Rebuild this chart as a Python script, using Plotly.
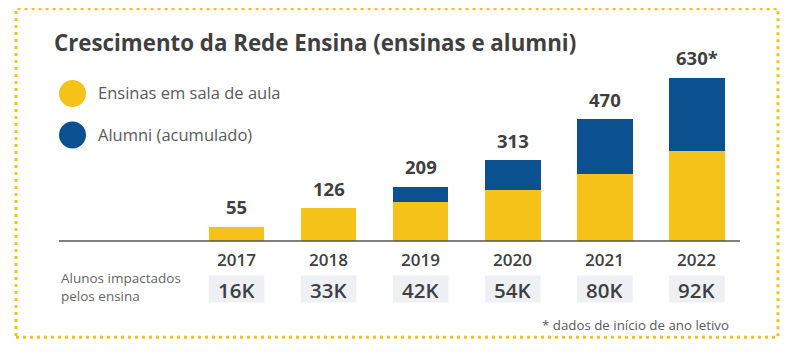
import plotly.graph_objects as go

# ---- data ----
anos = ["2017", "2018", "2019", "2020", "2021", "2022"]
ensinas_sala = [55, 126, 152, 198, 260, 349]
alumni_acum = [0, 0, 57, 115, 210, 281]
rotulos_total = ["55", "126", "209", "313", "470", "630*"]
alunos_impactados = ["16K", "33K", "42K", "54K", "80K", "92K"]

# ---- style ----
YELLOW = "#F4C218"
BLUE = "#0B5190"
DARK = "#3f3f3f"
GREY = "#5a5a5a"
FONT = "Open Sans"

OFF = 8  # page body margin offset
W, H = 790 - OFF, 356 - OFF
ML, MR, MT = 59 - OFF, 50, 60 - OFF
BASE = 241.5 - OFF
MB = H - BASE
PW = W - ML - MR
PH = BASE - MT

def px_x(px):
    return (px - OFF - ML) / PW

def px_y(py):
    return (BASE - (py - OFF)) / PH

xs = list(range(len(anos)))
bw = 0.603
totals = [a + b for a, b in zip(ensinas_sala, alumni_acum)]

fig = go.Figure()
fig.add_trace(go.Bar(x=xs, y=ensinas_sala, width=bw, marker=dict(color=YELLOW, line=dict(width=0)),
                     name="Ensinas em sala de aula", hoverinfo="skip"))
fig.add_trace(go.Bar(x=xs, y=alumni_acum, width=bw, marker=dict(color=BLUE, line=dict(width=0)),
                     name="Alumni (acumulado)", hoverinfo="skip"))

annotations = []
shapes = []

# value labels
for x, t, lab in zip(xs, totals, rotulos_total):
    annotations.append(dict(x=x, y=t, xref="x", yref="y", text=lab, showarrow=False,
                            yanchor="middle", yshift=20,
                            font=dict(family=FONT, size=18.5, color=DARK, weight="bold")))

# year labels and boxes
for x, ano, k in zip(xs, anos, alunos_impactados):
    annotations.append(dict(x=x, y=0, xref="x", yref="paper", text=ano, showarrow=False,
                            yanchor="middle", yshift=-18,
                            font=dict(family=FONT, size=17, color=DARK, weight=600)))
    shapes.append(dict(type="rect", xref="x", yref="paper", x0=x - bw / 2, x1=x + bw / 2,
                       ysizemode="pixel", yanchor=0, y0=-61.5, y1=-34.5,
                       fillcolor="#EEF0F3", line=dict(width=0), layer="below"))
    annotations.append(dict(x=x, y=0, xref="x", yref="paper", text=k, showarrow=False,
                            yanchor="middle", yshift=-49,
                            font=dict(family=FONT, size=20.5, color=DARK, weight=600)))

annotations.append(dict(x=0, y=0, xref="paper", yref="paper", text="Alunos impactados<br>pelos ensina",
                        showarrow=False, xanchor="left", yanchor="middle", yshift=-46, align="left",
                        font=dict(family=FONT, size=13.5, color="#666666")))
annotations.append(dict(x=1, y=0, xref="paper", yref="paper", text="* dados de início de ano letivo",
                        showarrow=False, xanchor="right", yanchor="middle", xshift=-9, yshift=-83.5,
                        font=dict(family=FONT, size=13.3, color=GREY)))

# title
annotations.append(dict(x=0, y=1, xref="paper", yref="paper",
                        text="Crescimento da Rede Ensina (ensinas e alumni)",
                        showarrow=False, xanchor="left", yanchor="middle", xshift=-7, yshift=18,
                        font=dict(family=FONT, size=22.3, color=DARK, weight="bold")))

# legend
leg = [("Ensinas em sala de aula", YELLOW, 93.5, 92.5), ("Alumni (acumulado)", BLUE, 135, 134)]
for name, col, cy, ty in leg:
    shapes.append(dict(type="circle", xref="paper", yref="paper",
                       xsizemode="pixel", xanchor=0, x0=0, x1=27,
                       ysizemode="pixel", yanchor=1, y0=-(cy - 60) - 13.5, y1=-(cy - 60) + 13.5,
                       fillcolor=col, line=dict(width=0)))
    annotations.append(dict(x=0, y=1, xref="paper", yref="paper", text=name, showarrow=False,
                            xanchor="left", yanchor="middle", xshift=37, yshift=-(ty - 60),
                            font=dict(family=FONT, size=16.5, color=GREY)))

# baseline
shapes.append(dict(type="line", xref="paper", yref="paper", x0=0, x1=1, y0=0, y1=0,
                   line=dict(color="#555555", width=1.5)))

# dotted border
shapes.append(dict(type="rect", xref="paper", yref="paper",
                   x0=px_x(16), x1=px_x(778), y0=px_y(338), y1=px_y(8.5),
                   line=dict(color=YELLOW, width=3, dash="3px,4px"), fillcolor="rgba(0,0,0,0)"))

fig.update_layout(
    width=W, height=H, barmode="stack", bargap=0,
    margin=dict(l=ML, r=MR, t=MT, b=MB, pad=0),
    paper_bgcolor="white", plot_bgcolor="white", showlegend=False,
    xaxis=dict(range=[-1.927, 5.467], visible=False, fixedrange=True),
    yaxis=dict(range=[0, PH / 0.2595], visible=False, fixedrange=True),
    annotations=annotations, shapes=shapes,
)

fig.write_html("out.html", config=dict(displayModeBar=False))
